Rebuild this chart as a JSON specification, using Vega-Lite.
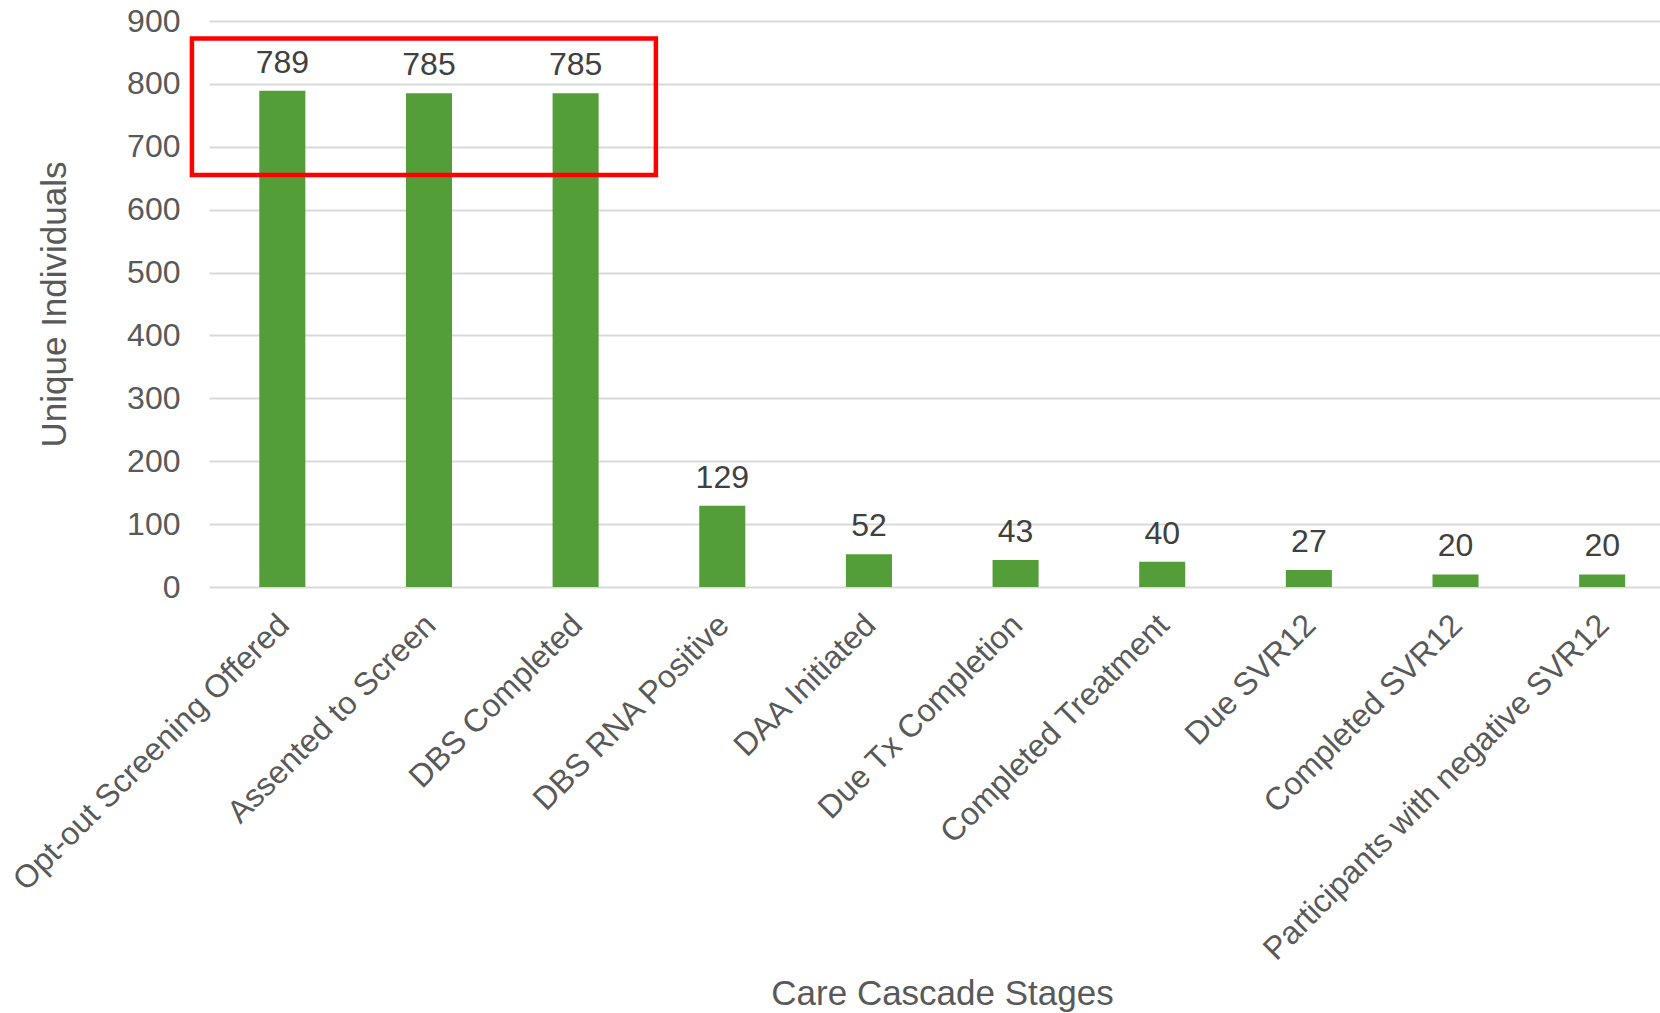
{
  "$schema": "https://vega.github.io/schema/vega-lite/v6.json",
  "width": 1451,
  "height": 566,
  "autosize": {"type": "none"},
  "padding": {"left": 209, "top": 21, "right": 0, "bottom": 426},
  "background": "white",
  "config": {
    "view": {"stroke": null},
    "font": "Liberation Sans"
  },
  "datasets": {
    "stages": [
      {"stage": "Opt-out Screening Offered", "count": 789},
      {"stage": "Assented to Screen", "count": 785},
      {"stage": "DBS Completed", "count": 785},
      {"stage": "DBS RNA Positive", "count": 129},
      {"stage": "DAA Initiated", "count": 52},
      {"stage": "Due Tx Completion", "count": 43},
      {"stage": "Completed Treatment", "count": 40},
      {"stage": "Due SVR12", "count": 27},
      {"stage": "Completed SVR12", "count": 20},
      {"stage": "Participants with negative SVR12", "count": 20}
    ],
    "highlight": [
      {"from": "Opt-out Screening Offered", "to": "DBS Completed", "top": 872, "bottom": 655}
    ]
  },
  "layer": [
    {
      "data": {"name": "stages"},
      "mark": {"type": "bar", "color": "#549E39"},
      "encoding": {
        "x": {
          "field": "stage",
          "type": "nominal",
          "sort": null,
          "scale": {"range": [0, 1466.5], "paddingInner": 0.686, "paddingOuter": 0.343},
          "axis": {
            "title": "Care Cascade Stages",
            "labelAngle": -45,
            "labelFontSize": 32,
            "labelColor": "#595959",
            "labelPadding": 22,
            "labelOffset": -9,
            "labelLimit": 0,
            "domain": false,
            "ticks": false,
            "titleFontSize": 35,
            "titleFontWeight": "normal",
            "titleColor": "#595959",
            "titleX": 733,
            "titleY": 417,
            "titleBaseline": "alphabetic"
          }
        },
        "y": {
          "field": "count",
          "type": "quantitative",
          "scale": {"domain": [0, 900], "nice": false},
          "axis": {
            "title": "Unique Individuals",
            "values": [0, 100, 200, 300, 400, 500, 600, 700, 800, 900],
            "labelFontSize": 32,
            "labelColor": "#595959",
            "labelPadding": 29,
            "domain": false,
            "ticks": false,
            "gridColor": "#D9D9D9",
            "gridWidth": 2,
            "titleFontSize": 35,
            "titleFontWeight": "normal",
            "titleColor": "#595959",
            "titleX": -155,
            "titleY": 283,
            "titleBaseline": "middle"
          }
        }
      }
    },
    {
      "data": {"name": "stages"},
      "mark": {"type": "text", "fontSize": 32, "color": "#404040", "baseline": "alphabetic", "dy": -18},
      "encoding": {
        "x": {"field": "stage", "type": "nominal", "sort": null},
        "y": {"field": "count", "type": "quantitative"},
        "text": {"field": "count", "type": "quantitative"}
      }
    },
    {
      "data": {"name": "highlight"},
      "mark": {"type": "rect", "filled": false, "stroke": "#FF0000", "strokeWidth": 4.5},
      "encoding": {
        "x": {"field": "from", "type": "nominal", "sort": null, "bandPosition": -1.463},
        "x2": {"field": "to", "bandPosition": 2.243},
        "y": {"field": "top", "type": "quantitative"},
        "y2": {"field": "bottom"}
      }
    }
  ]
}
